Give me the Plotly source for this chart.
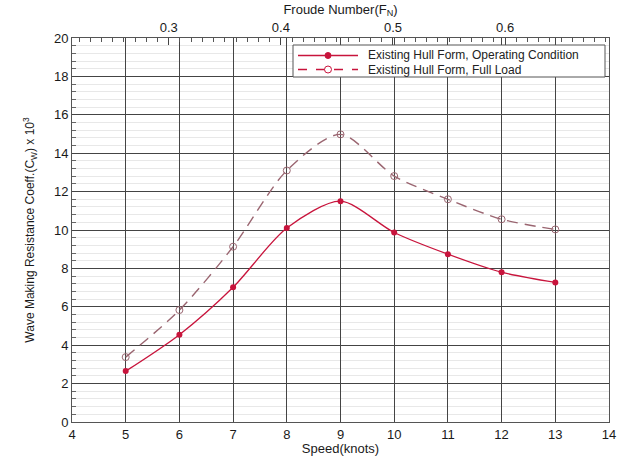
import plotly.graph_objects as go

speed = [5, 6, 7, 8, 9, 10, 11, 12, 13]
cw_operating = [2.65, 4.55, 7.02, 10.1, 11.5, 9.87, 8.74, 7.8, 7.27]
cw_full_load = [3.38, 5.83, 9.13, 13.1, 14.98, 12.81, 11.6, 10.56, 10.03]
series_names = ["Existing Hull Form, Operating Condition", "Existing Hull Form, Full Load"]

x_ticks = list(range(4, 15))
y_ticks = list(range(0, 21, 2))
froude_ticks = [0.3, 0.4, 0.5, 0.6]
froude_range = [0.2137, 0.6927]

red = "#c8143c"
mauve = "#9a6570"
font_family = "Liberation Sans, Arial, sans-serif"

fig = go.Figure()
fig.add_trace(go.Scatter(
    x=speed, y=cw_operating, mode="lines+markers", name=series_names[0],
    line=dict(color=red, width=1.3, shape="spline", smoothing=0.8),
    marker=dict(symbol="circle", size=6, color=red),
))
fig.add_trace(go.Scatter(
    x=speed, y=cw_full_load, mode="lines+markers", name=series_names[1],
    line=dict(color=mauve, width=1.4, dash="11px,7px", shape="spline", smoothing=0.8),
    marker=dict(symbol="circle-open", size=7, color=mauve, line=dict(width=1)),
))
# invisible trace so the top Froude-number axis is drawn
fig.add_trace(go.Scatter(
    x=froude_range, y=[None, None], xaxis="x2", mode="lines",
    showlegend=False, hoverinfo="skip",
))

# manual legend (compact, like the reference)
W, H, L, T = 537.0, 384.0, 72.0, 38.0
def px(x):
    return (x - L) / W
def py(y):
    return (T + H - y) / H

r1, r2 = 55.5, 69.5
shapes = [
    dict(type="rect", xref="paper", yref="paper", x0=px(293), x1=px(605), y0=py(77), y1=py(45),
         line=dict(color="#555", width=1), fillcolor="white", layer="above"),
    dict(type="line", xref="paper", yref="paper", x0=px(298), x1=px(358), y0=py(r1), y1=py(r1),
         line=dict(color=red, width=1.3), layer="above"),
    dict(type="circle", xref="paper", yref="paper", x0=px(325), x1=px(331), y0=py(r1 + 3), y1=py(r1 - 3),
         line=dict(color=red, width=1), fillcolor=red, layer="above"),
    dict(type="line", xref="paper", yref="paper", x0=px(298), x1=px(358), y0=py(r2), y1=py(r2),
         line=dict(color=red, width=1.3, dash="9px,9px"), layer="above"),
    dict(type="circle", xref="paper", yref="paper", x0=px(324.5), x1=px(331.5), y0=py(r2 + 3.5), y1=py(r2 - 3.5),
         line=dict(color=red, width=1), fillcolor="white", layer="above"),
]
annotations = [
    dict(xref="paper", yref="paper", x=px(366), y=py(r1), text=series_names[0], showarrow=False,
         xanchor="left", yanchor="middle", font=dict(size=12, color="#222")),
    dict(xref="paper", yref="paper", x=px(366), y=py(r2), text=series_names[1], showarrow=False,
         xanchor="left", yanchor="middle", font=dict(size=12, color="#222")),
]

fig.update_layout(
    width=621, height=456, autosize=False,
    margin=dict(l=72, r=12, t=38, b=34, pad=0),
    paper_bgcolor="white", plot_bgcolor="white",
    font=dict(family=font_family, size=13, color="#1a1a1a"),
    showlegend=False,
    shapes=shapes, annotations=annotations,
    xaxis=dict(
        range=[4, 14], tickvals=x_ticks, ticktext=[str(v) for v in x_ticks],
        showgrid=True, gridcolor="#444", gridwidth=1,
        showline=True, linecolor="#555", linewidth=1, mirror=True,
        ticks="", zeroline=False, automargin=False,
        title=dict(text="Speed(knots)", font=dict(size=13), standoff=2),
        tickfont=dict(size=13),
    ),
    xaxis2=dict(
        overlaying="x", side="top", anchor="y",
        range=froude_range, tickvals=froude_ticks,
        ticktext=[str(v) for v in froude_ticks],
        showgrid=False, zeroline=False, automargin=False,
        ticks="inside", ticklen=7, tickcolor="#444",
        minor=dict(dtick=0.01, tick0=0.2, ticks="inside", ticklen=4, tickcolor="#555", showgrid=False),
        showline=True, linecolor="#555",
        title=dict(text="Froude Number(F<sub>N</sub>)", font=dict(size=13), standoff=2),
        tickfont=dict(size=13),
    ),
    yaxis=dict(
        range=[0, 20], tickvals=y_ticks, ticktext=[str(v) for v in y_ticks],
        showgrid=True, gridcolor="#444", gridwidth=1,
        showline=True, linecolor="#555", linewidth=1, mirror=True,
        ticks="inside", ticklen=6, tickcolor="#444",
        minor=dict(dtick=0.4, tick0=0, ticks="inside", ticklen=4, tickcolor="#666",
                   showgrid=True, gridcolor="#e8e8e8", gridwidth=1),
        zeroline=False, automargin=False,
        title=dict(text="Wave Making Resistance Coeff.(C<sub>W</sub>) x 10<sup>3</sup>",
                   font=dict(size=12), standoff=16),
        tickfont=dict(size=13),
    ),
)

fig.write_html("out.html", config={"displayModeBar": False},
               post_script="document.body.style.margin='0';")
